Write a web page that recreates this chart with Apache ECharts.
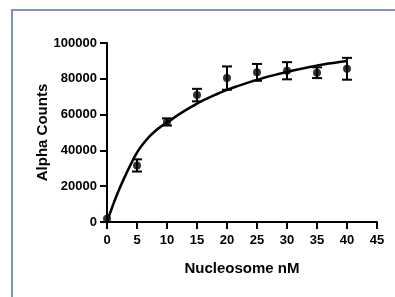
<!DOCTYPE html>
<html>
<head>
<meta charset="utf-8">
<script src="https://cdn.jsdelivr.net/npm/echarts@6/dist/echarts.min.js"></script>
<style>
html,body{margin:0;padding:0;background:#fff;}
#wrap{position:relative;width:395px;height:297px;overflow:hidden;}
#frame{position:absolute;left:11px;top:9px;width:400px;height:300px;border-top:2px solid #8094ba;border-left:2px solid #8094ba;box-sizing:border-box;}
#chart{position:absolute;left:0;top:0;width:395px;height:297px;}
</style>
</head>
<body>
<div id="wrap"><div id="frame"></div><div id="chart"></div></div>
<script>
// Data
var concentrations = [0, 5, 10, 15, 20, 25, 30, 35, 40];
var meanCounts     = [1800, 31600, 55900, 70900, 80400, 83600, 84500, 83400, 85600];
var errCounts      = [0, 3400, 2000, 3500, 6500, 4700, 4800, 3000, 6100];
// Fitted curve, points
var curveX = [0, 1, 2, 3, 4, 5, 6, 7, 8, 9, 10, 12, 14, 16, 18, 20, 22, 24, 26, 28, 30, 32, 34, 36, 38, 40];
var curveY = [0, 9500, 18000, 25500, 32500, 38800, 43600, 47500, 50700, 53300, 55500, 60100, 64200, 67900, 71000, 73800, 76200, 78400, 80400, 82200, 83800, 85300, 86700, 88000, 89000, 89900];
var xTicks = [0, 5, 10, 15, 20, 25, 30, 35, 40, 45];
var yTicks = [0, 20000, 40000, 60000, 80000, 100000];

var FONT = 'Liberation Sans, Arial, sans-serif';
var chart = echarts.init(document.getElementById('chart'), null, {renderer: 'canvas'});

var pointData = concentrations.map(function (x, i) { return [x, meanCounts[i]]; });
var errData = concentrations.map(function (x, i) { return [x, meanCounts[i] - errCounts[i], meanCounts[i] + errCounts[i]]; });
var curveData = curveX.map(function (x, i) { return [x, curveY[i]]; });

var axisCommon = {
  axisLine: {show: true, onZero: false, lineStyle: {color: '#000', width: 2}},
  axisTick: {show: true, inside: false, length: 7, lineStyle: {color: '#000', width: 2}},
  splitLine: {show: false},
  nameMoveOverlap: false,
  nameTextStyle: {color: '#000', fontFamily: FONT, fontWeight: 'bold', fontSize: 15}
};

chart.setOption({
  animation: false,
  backgroundColor: 'transparent',
  grid: {left: 107, right: 18, top: 43, bottom: 75, containLabel: false},
  xAxis: Object.assign({}, axisCommon, {
    type: 'value', min: 0, max: 45, interval: 5,
    name: 'Nucleosome nM', nameLocation: 'middle', nameGap: 39,
    axisLabel: {color: '#000', fontFamily: FONT, fontWeight: 'bold', fontSize: 13, margin: 12,
      formatter: function (v) { return xTicks.indexOf(v) >= 0 ? String(v) : ''; }}
  }),
  yAxis: Object.assign({}, axisCommon, {
    type: 'value', min: 0, max: 100000, interval: 20000,
    name: 'Alpha Counts', nameLocation: 'middle', nameGap: 57,
    axisLabel: {color: '#000', fontFamily: FONT, fontWeight: 'bold', fontSize: 13, margin: 10,
      formatter: function (v) { return yTicks.indexOf(v) >= 0 ? String(v) : ''; }}
  }),
  series: [
    {
      type: 'line', data: curveData, smooth: true, showSymbol: false, symbol: 'none',
      lineStyle: {color: '#000', width: 2.5}, z: 2
    },
    {
      type: 'custom', data: errData, z: 3,
      renderItem: function (params, api) {
        var x = api.value(0);
        var lo = api.coord([x, api.value(1)]);
        var hi = api.coord([x, api.value(2)]);
        var hw = 5;
        var st = {stroke: '#000', lineWidth: 2, fill: null};
        if (api.value(2) - api.value(1) <= 0) return null;
        return {
          type: 'group',
          children: [
            {type: 'line', shape: {x1: hi[0], y1: hi[1], x2: lo[0], y2: lo[1]}, style: st},
            {type: 'line', shape: {x1: hi[0] - hw, y1: hi[1], x2: hi[0] + hw, y2: hi[1]}, style: st},
            {type: 'line', shape: {x1: lo[0] - hw, y1: lo[1], x2: lo[0] + hw, y2: lo[1]}, style: st}
          ]
        };
      }
    },
    {
      type: 'scatter', data: pointData, symbol: 'circle', symbolSize: 8,
      itemStyle: {color: '#000'}, z: 4
    }
  ]
});
</script>
</body>
</html>
